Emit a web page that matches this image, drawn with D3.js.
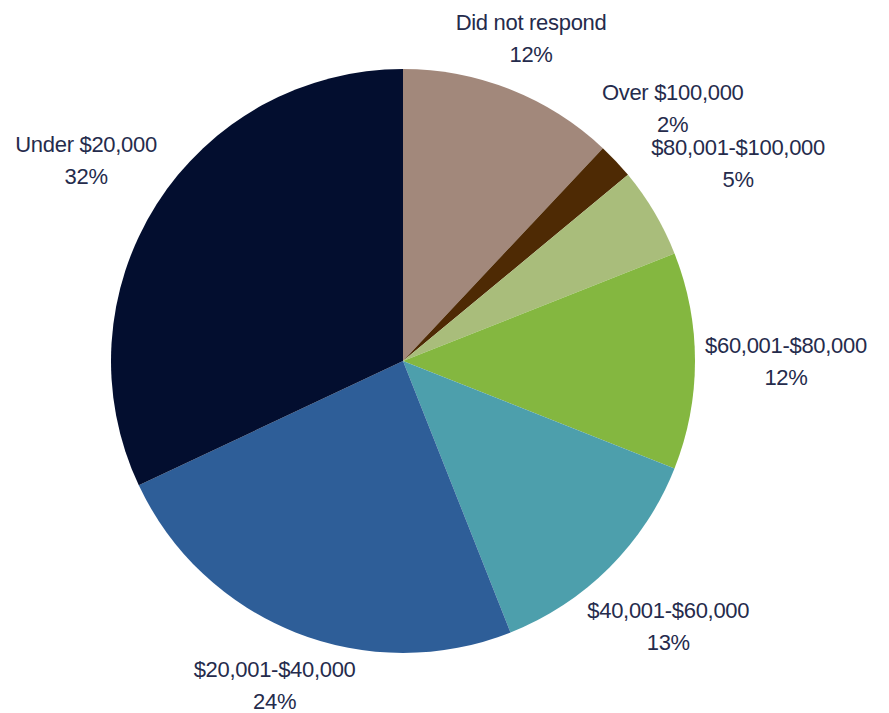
<!DOCTYPE html>
<html>
<head>
<meta charset="utf-8">
<script src="https://cdn.jsdelivr.net/npm/d3@7/dist/d3.min.js"></script>
<style>
  html, body { margin: 0; padding: 0; background: #ffffff; }
  svg { display: block; }
  text { font-family: "Liberation Sans", Arial, sans-serif; }
</style>
</head>
<body>
<svg id="chart" width="889" height="713"></svg>
<script>
// Household income of respondents (share of total, %)
const categories = [
  "Did not respond",
  "Over $100,000",
  "$80,001-$100,000",
  "$60,001-$80,000",
  "$40,001-$60,000",
  "$20,001-$40,000",
  "Under $20,000"
];
const shares = [12, 2, 5, 12, 13, 24, 32];
const colors = ["#a2887b", "#4e2a04", "#a9bd7b", "#84b740", "#4d9fac", "#2e5e98", "#030e2f"];

const data = categories.map((c, i) => ({ category: c, value: shares[i], color: colors[i] }));

const width = 889, height = 713;
const cx = 403, cy = 361, radius = 292;
const labelGap = 10;      // distance between pie edge and nearest corner of a label
const lineHeight = 32;
const fontSize = 22;

const svg = d3.select("#chart");
const g = svg.append("g").attr("transform", `translate(${cx},${cy})`);

const pie = d3.pie().sort(null).value(d => d.value);
const arc = d3.arc().innerRadius(0).outerRadius(radius);
const arcs = pie(data);

g.selectAll("path.slice")
  .data(arcs)
  .join("path")
  .attr("class", "slice")
  .attr("d", arc)
  .attr("fill", d => d.data.color);

// Labels: two lines (category, percent), pushed out along the slice's mid-angle
// until the label box sits just outside the pie.
const labels = g.selectAll("g.label")
  .data(arcs)
  .join("g")
  .attr("class", "label");

labels.append("text")
  .attr("text-anchor", "middle")
  .attr("fill", "#252b4c")
  .attr("font-size", fontSize)
  .attr("letter-spacing", "-0.3px")
  .call(t => {
    t.append("tspan").attr("x", 0).attr("y", -lineHeight / 2 + 8).text(d => d.data.category);
    t.append("tspan").attr("x", 0).attr("y", lineHeight / 2 + 8).text(d => d3.format(".0f")(d.data.value) + "%");
  });

labels.each(function(d) {
  const node = d3.select(this).select("text").node();
  const bb = node.getBBox();
  const w = bb.width, h = 52;
  const theta = (d.startAngle + d.endAngle) / 2;
  const ux = Math.sin(theta), uy = -Math.cos(theta);
  const target = radius + labelGap;
  // nearest distance from pie centre to the box centred at distance D along the ray
  const nearest = D => {
    const x = D * ux, y = D * uy;
    const nx = Math.max(Math.abs(x) - w / 2, 0);
    const ny = Math.max(Math.abs(y) - h / 2, 0);
    return Math.hypot(nx, ny);
  };
  let lo = 0, hi = radius * 3;
  for (let i = 0; i < 60; i++) {
    const mid = (lo + hi) / 2;
    if (nearest(mid) < target) lo = mid; else hi = mid;
  }
  const D = (lo + hi) / 2;
  d3.select(this).attr("transform", `translate(${D * ux},${D * uy})`);
});
</script>
</body>
</html>
